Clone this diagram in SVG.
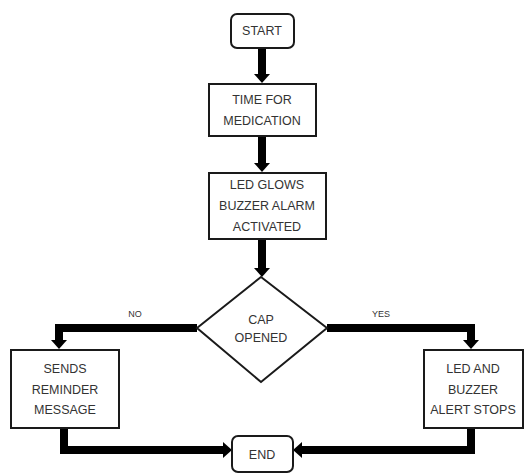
<svg xmlns="http://www.w3.org/2000/svg" width="526" height="474" viewBox="0 0 526 474">
<style>
.box{fill:#fff;stroke:#1a1a1a;stroke-width:2}
.t{font-family:"Liberation Sans",Arial,sans-serif;font-size:12.5px;fill:#333;text-anchor:middle;dominant-baseline:central}
.lbl{font-family:"Liberation Sans",Arial,sans-serif;font-size:9px;fill:#333;text-anchor:middle;dominant-baseline:central}
.c{fill:none;stroke:#000;stroke-width:8;stroke-linejoin:miter}
</style>
<defs>
<marker id="ah" markerUnits="userSpaceOnUse" viewBox="0 0 9 16" markerWidth="9" markerHeight="16" refX="0" refY="8" orient="auto">
<path d="M0,0 L9,8 L0,16 z" fill="#000"/>
</marker>
</defs>
<g id="connectors">
<path class="c" d="M262,48 V74" marker-end="url(#ah)"/>
<path class="c" d="M262,136 V163" marker-end="url(#ah)"/>
<path class="c" d="M262,239 V268" marker-end="url(#ah)"/>
<path class="c" d="M197,328 H59 V340" marker-end="url(#ah)"/>
<path class="c" d="M327,328 H471 V340" marker-end="url(#ah)"/>
<path class="c" d="M64,428 V450 H223" marker-end="url(#ah)"/>
<path class="c" d="M471,428 V450 H302" marker-end="url(#ah)"/>
<text class="lbl" x="135" y="314">NO</text>
<text class="lbl" x="381" y="314">YES</text>
</g>
<g id="start">
<rect class="box" x="231" y="14" width="63" height="34" rx="6"/>
<text class="t" x="262" y="31">START</text>
</g>
<g id="time">
<rect class="box" x="209" y="84" width="107" height="52"/>
<text class="t" x="262" y="100">TIME FOR</text>
<text class="t" x="262" y="121">MEDICATION</text>
</g>
<g id="led">
<rect class="box" x="209" y="173" width="117" height="66"/>
<text class="t" x="267" y="185">LED GLOWS</text>
<text class="t" x="267" y="206">BUZZER ALARM</text>
<text class="t" x="267" y="227">ACTIVATED</text>
</g>
<g id="cap">
<polygon class="box" points="261,277 327,328 261,382 197,328"/>
<text class="t" x="261" y="320">CAP</text>
<text class="t" x="261" y="338">OPENED</text>
</g>
<g id="sends">
<rect class="box" x="11" y="350" width="108" height="78"/>
<text class="t" x="65" y="369">SENDS</text>
<text class="t" x="65" y="390">REMINDER</text>
<text class="t" x="65" y="410">MESSAGE</text>
</g>
<g id="stops">
<rect class="box" x="424" y="350" width="99" height="78"/>
<text class="t" x="473" y="369">LED AND</text>
<text class="t" x="473" y="390">BUZZER</text>
<text class="t" x="473" y="410">ALERT STOPS</text>
</g>
<g id="end">
<rect class="box" x="232" y="436" width="61" height="36" rx="6"/>
<text class="t" x="262" y="455">END</text>
</g>
</svg>
